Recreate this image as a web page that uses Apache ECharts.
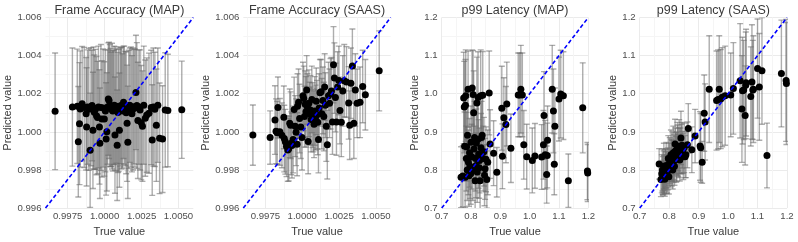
<!DOCTYPE html>
<html><head><meta charset="utf-8">
<script src="https://cdn.jsdelivr.net/npm/echarts@6/dist/echarts.min.js"></script>
<style>html,body{margin:0;padding:0;background:#fff}#c{width:798px;height:242px}</style>
</head><body><div id="c"></div>
<script>
const panelTitles = ['Frame Accuracy (MAP)', 'Frame Accuracy (SAAS)', 'p99 Latency (MAP)', 'p99 Latency (SAAS)'];
const xTitle = 'True value';
const yTitle = 'Predicted value';

const accRange = [0.996, 1.006];
const accTicksX = [0.9975, 1.0000, 1.0025, 1.0050];
const accMinorX = [0.99625, 0.99875, 1.00125, 1.00375];
const accTickStepY = 0.002;
const latRange = [0.7, 1.2];
const latTickStep = 0.1;

const accTrue = [0.99665,0.99782,0.99815,0.99822,0.99830,0.99835,0.99848,0.99862,0.99875,0.99878,
 0.99885,0.99893,0.99902,0.99908,0.99915,0.99921,0.99925,0.99930,0.99938,0.99945,
 0.99952,0.99958,0.99965,0.99968,0.99975,0.99982,0.99990,0.99998,1.00005,1.00010,
 1.00015,1.00020,1.00025,1.00030,1.00035,1.00040,1.00045,1.00050,1.00055,1.00060,
 1.00065,1.00070,1.00075,1.00080,1.00085,1.00090,1.00095,1.00100,1.00105,1.00110,
 1.00115,1.00120,1.00128,1.00133,1.00140,1.00146,1.00152,1.00157,1.00163,1.00170,
 1.00178,1.00185,1.00192,1.00198,1.00205,1.00212,1.00218,1.00225,1.00232,1.00240,
 1.00248,1.00256,1.00265,1.00275,1.00285,1.00300,1.00315,1.00322,1.00330,1.00340,
 1.00350,1.00360,1.00372,1.00392,1.00410,1.00428,1.00522];

const accMapPred = [1.00108,1.00130,1.00134,0.99948,1.00043,1.00120,1.00148,1.00128,1.00095,1.00026,
 1.00130,1.00118,0.99903,1.00132,1.00138,1.00008,1.00125,1.00103,1.00118,1.00085,
 1.00075,1.00130,1.00026,0.99940,1.00128,1.00068,1.00125,1.00068,1.00110,0.99963,
 1.00000,1.00130,1.00172,1.00165,1.00138,1.00128,1.00118,1.00135,1.00110,1.00128,
 1.00140,0.99983,1.00122,1.00135,0.99930,1.00102,1.00112,1.00009,1.00130,1.00138,
 1.00125,1.00110,1.00155,1.00140,1.00122,1.00100,1.00045,0.99945,1.00118,1.00140,
 1.00130,1.00095,1.00120,1.00132,1.00125,1.00207,1.00138,1.00060,1.00130,1.00115,
 1.00048,1.00030,1.00140,1.00072,1.00088,1.00098,1.00128,0.99957,1.00130,1.00118,
 1.00035,1.00140,0.99966,0.99962,1.00115,1.00112,1.00116];

const accMapErr = [0.00306,0.00310,0.00300,0.00290,0.00320,0.00305,0.00300,0.00315,0.00295,0.00310,
 0.00300,0.00320,0.00300,0.00310,0.00290,0.00305,0.00320,0.00300,0.00315,0.00310,
 0.00295,0.00320,0.00300,0.00290,0.00330,0.00305,0.00310,0.00300,0.00320,0.00295,
 0.00310,0.00300,0.00295,0.00305,0.00320,0.00310,0.00300,0.00330,0.00315,0.00300,
 0.00310,0.00305,0.00325,0.00300,0.00290,0.00315,0.00320,0.00300,0.00310,0.00305,
 0.00320,0.00300,0.00295,0.00310,0.00300,0.00320,0.00305,0.00295,0.00310,0.00300,
 0.00315,0.00305,0.00320,0.00300,0.00310,0.00300,0.00330,0.00305,0.00300,0.00315,
 0.00300,0.00290,0.00310,0.00305,0.00300,0.00315,0.00300,0.00290,0.00310,0.00300,
 0.00295,0.00300,0.00290,0.00280,0.00300,0.00295,0.00255];

const accSaasPred = [0.99983,0.99970,1.00062,1.00003,0.99995,1.00128,1.00000,0.99982,1.00076,0.99965,
 0.99948,0.99925,0.99905,0.99912,1.00045,1.00035,0.99940,0.99928,0.99960,1.00117,
 1.00030,0.99998,0.99935,1.00135,1.00155,1.00070,1.00025,0.99970,1.00190,1.00175,
 1.00080,1.00145,1.00105,1.00220,1.00130,0.99950,1.00150,1.00095,1.00115,1.00065,
 1.00170,1.00088,1.00060,1.00040,1.00110,1.00075,1.00160,1.00090,1.00050,0.99960,
 1.00125,1.00205,1.00210,1.00095,1.00165,1.00080,1.00235,1.00140,1.00030,0.99933,
 1.00190,1.00150,1.00200,1.00215,1.00052,1.00352,1.00282,1.00180,1.00052,1.00235,
 1.00270,1.00112,1.00050,1.00215,1.00268,1.00262,1.00152,1.00035,1.00255,1.00345,
 1.00045,1.00220,1.00150,1.00155,1.00238,1.00195,1.00320];

const accSaasErr = [0.00158,0.00140,0.00180,0.00170,0.00165,0.00160,0.00175,0.00170,0.00165,0.00175,
 0.00170,0.00160,0.00165,0.00170,0.00180,0.00175,0.00165,0.00170,0.00175,0.00170,
 0.00160,0.00175,0.00165,0.00170,0.00175,0.00180,0.00165,0.00170,0.00175,0.00170,
 0.00160,0.00175,0.00185,0.00180,0.00175,0.00170,0.00175,0.00165,0.00180,0.00170,
 0.00175,0.00170,0.00165,0.00175,0.00180,0.00170,0.00175,0.00180,0.00170,0.00175,
 0.00180,0.00175,0.00170,0.00185,0.00175,0.00180,0.00175,0.00170,0.00185,0.00180,
 0.00175,0.00180,0.00185,0.00175,0.00170,0.00200,0.00185,0.00180,0.00175,0.00185,
 0.00180,0.00175,0.00180,0.00185,0.00190,0.00185,0.00190,0.00180,0.00185,0.00195,
 0.00185,0.00190,0.00180,0.00185,0.00190,0.00185,0.00210];

const latTrue = [0.766,0.772,0.775,0.777,0.778,0.780,0.781,0.782,0.784,0.785,
 0.787,0.788,0.790,0.791,0.793,0.795,0.797,0.799,0.800,0.802,
 0.804,0.806,0.807,0.809,0.810,0.812,0.814,0.815,0.817,0.818,
 0.820,0.821,0.823,0.824,0.826,0.828,0.829,0.831,0.833,0.834,
 0.836,0.838,0.840,0.842,0.844,0.846,0.848,0.851,0.854,0.857,
 0.862,0.865,0.877,0.888,0.905,0.907,0.912,0.919,0.922,0.936,
 0.961,0.966,0.970,0.975,0.980,0.990,1.009,1.018,1.041,1.047,
 1.049,1.053,1.058,1.060,1.061,1.077,1.081,1.084,1.086,1.100,
 1.106,1.115,1.132,1.181,1.197,1.198];

const latMapPred = [0.781,0.784,0.989,0.965,0.862,0.781,0.970,0.995,0.830,0.861,
 0.800,0.891,1.012,0.820,0.785,0.845,0.810,0.790,0.873,0.835,
 1.015,0.800,0.998,0.950,0.855,0.885,0.772,0.830,0.812,0.870,
 0.976,0.795,0.880,0.990,0.842,0.806,0.825,0.772,0.995,0.858,
 0.885,0.891,0.996,0.830,0.848,0.786,0.803,0.828,0.775,0.820,
 1.002,0.868,0.844,0.794,0.962,0.836,0.937,0.919,0.973,0.857,
 0.997,0.997,1.012,0.997,0.866,0.835,0.825,0.837,0.834,0.866,
 0.943,0.840,0.788,0.838,0.878,1.012,0.955,0.815,0.915,0.986,
 0.999,0.995,0.772,0.963,0.797,0.792];

const latMapErr = [0.080,0.080,0.120,0.120,0.090,0.080,0.120,0.120,0.085,0.090,
 0.080,0.100,0.100,0.085,0.080,0.090,0.085,0.080,0.095,0.085,
 0.100,0.080,0.115,0.110,0.090,0.095,0.075,0.085,0.085,0.090,
 0.120,0.080,0.095,0.120,0.090,0.080,0.085,0.075,0.120,0.090,
 0.095,0.100,0.115,0.085,0.090,0.080,0.080,0.085,0.075,0.085,
 0.110,0.090,0.085,0.065,0.110,0.085,0.105,0.100,0.110,0.090,
 0.110,0.110,0.115,0.110,0.090,0.085,0.085,0.085,0.085,0.090,
 0.115,0.090,0.075,0.085,0.090,0.115,0.110,0.080,0.100,0.110,
 0.115,0.115,0.070,0.118,0.075,0.075];

const latSaasPred = [0.816,0.775,0.790,0.800,0.785,0.780,0.795,0.810,0.788,0.776,
 0.800,0.805,0.812,0.793,0.790,0.803,0.830,0.782,0.815,0.825,
 0.805,0.840,0.826,0.818,0.835,0.800,0.845,0.822,0.832,0.810,
 0.868,0.850,0.843,0.828,0.835,0.855,0.858,0.838,0.845,0.862,
 0.826,0.850,0.884,0.855,0.865,0.846,0.835,0.858,0.835,0.840,
 0.866,0.909,0.853,0.889,0.863,0.858,0.820,0.949,0.926,1.012,
 0.982,0.985,1.012,0.986,0.991,0.995,0.997,1.014,1.034,0.960,
 1.008,1.010,0.943,1.022,1.029,0.993,1.031,1.010,1.012,1.066,
 1.018,1.060,0.838,1.053,1.035,1.027];

const latSaasErr = [0.040,0.045,0.050,0.055,0.050,0.045,0.055,0.060,0.050,0.045,
 0.055,0.050,0.060,0.055,0.050,0.055,0.060,0.045,0.055,0.060,
 0.050,0.065,0.055,0.060,0.065,0.050,0.070,0.055,0.060,0.050,
 0.065,0.060,0.055,0.060,0.065,0.070,0.060,0.055,0.065,0.070,
 0.055,0.060,0.070,0.065,0.060,0.055,0.060,0.065,0.055,0.060,
 0.060,0.065,0.060,0.070,0.090,0.090,0.055,0.100,0.100,0.140,
 0.130,0.130,0.140,0.130,0.130,0.130,0.110,0.120,0.150,0.140,
 0.140,0.130,0.130,0.140,0.140,0.130,0.150,0.130,0.140,0.130,
 0.140,0.140,0.085,0.140,0.160,0.160];

// ---------------- layout ----------------
const FONT = 'Liberation Sans, Arial, sans-serif';
const grids = [
  {left: 45.5, top: 17.5, width: 147.8, height: 193},
  {left: 243.3, top: 17.5, width: 147.4, height: 193},
  {left: 441.7, top: 17.5, width: 146.6, height: 193},
  {left: 639.7, top: 17.5, width: 147.3, height: 193}
];
const yNameGaps = [29.3, 28.3, 18.3, 18.3];
const MAJOR = '#ebebeb', MINOR = '#f5f5f5';

function errRenderer(params, api) {
  const x = api.value(0), lo = api.value(1), hi = api.value(2);
  const pLo = api.coord([x, lo]), pHi = api.coord([x, hi]);
  const cap = 3;
  const style = {stroke: 'rgba(105,105,105,0.55)', lineWidth: 1.4, fill: null};
  return {type: 'group', children: [
    {type: 'line', shape: {x1: pLo[0], y1: pLo[1], x2: pHi[0], y2: pHi[1]}, style: style},
    {type: 'line', shape: {x1: pLo[0] - cap, y1: pLo[1], x2: pLo[0] + cap, y2: pLo[1]}, style: style},
    {type: 'line', shape: {x1: pHi[0] - cap, y1: pHi[1], x2: pHi[0] + cap, y2: pHi[1]}, style: style}
  ]};
}

const panels = [
  {x: accTrue, y: accMapPred, e: accMapErr, range: accRange, acc: true},
  {x: accTrue, y: accSaasPred, e: accSaasErr, range: accRange, acc: true},
  {x: latTrue, y: latMapPred, e: latMapErr, range: latRange, acc: false},
  {x: latTrue, y: latSaasPred, e: latSaasErr, range: latRange, acc: false}
];

const option = {
  animation: false,
  backgroundColor: '#ffffff',
  textStyle: {fontFamily: FONT},
  title: [], grid: [], xAxis: [], yAxis: [], series: []
};

panels.forEach((p, i) => {
  const g = grids[i];
  option.grid.push({left: g.left, top: g.top, width: g.width, height: g.height, containLabel: false});
  option.title.push({
    text: panelTitles[i], left: g.left + g.width / 2, top: 4.5, textAlign: 'center', padding: 0,
    textStyle: {fontFamily: FONT, fontSize: 12.5, fontWeight: 'normal', color: '#3a3a3a'}
  });
  const xAx = {
    type: 'value', gridIndex: i, min: p.range[0], max: p.range[1],
    name: xTitle, nameLocation: 'middle', nameGap: 14.5,
    nameTextStyle: {fontFamily: FONT, fontSize: 11, color: '#3a3a3a'},
    axisLine: {show: false}, axisTick: {show: false},
    splitLine: {show: true, lineStyle: {color: MAJOR, width: 1}},
    axisLabel: {fontFamily: FONT, fontSize: 9.6, color: '#4d4d4d', margin: 3}
  };
  if (p.acc) {
    xAx.axisTick.customValues = accTicksX;
    xAx.axisLabel.customValues = accTicksX;
    xAx.axisLabel.formatter = v => v.toFixed(4);
  } else {
    xAx.interval = latTickStep;
    xAx.axisLabel.formatter = v => v.toFixed(1);
    xAx.minorTick = {show: false, splitNumber: 2};
    xAx.minorSplitLine = {show: true, lineStyle: {color: MINOR, width: 1}};
  }
  option.xAxis.push(xAx);
  option.yAxis.push({
    type: 'value', gridIndex: i, min: p.range[0], max: p.range[1],
    interval: p.acc ? accTickStepY : latTickStep,
    name: yTitle, nameLocation: 'middle', nameGap: yNameGaps[i],
    nameTextStyle: {fontFamily: FONT, fontSize: 11, color: '#3a3a3a'},
    axisLine: {show: false}, axisTick: {show: false},
    minorTick: {show: false, splitNumber: 2},
    splitLine: {show: true, lineStyle: {color: MAJOR, width: 1}},
    minorSplitLine: {show: true, lineStyle: {color: MINOR, width: 1}},
    axisLabel: {fontFamily: FONT, fontSize: 9.6, color: '#4d4d4d', margin: 4,
      formatter: v => p.acc ? v.toFixed(3) : v.toFixed(1)}
  });
});
// minor vertical grid for accuracy panels
[0, 1].forEach(i => {
  option.xAxis.push({
    type: 'value', gridIndex: i, min: accRange[0], max: accRange[1], position: 'top',
    axisLine: {show: false}, axisLabel: {show: false},
    axisTick: {show: false, customValues: accMinorX},
    splitLine: {show: true, lineStyle: {color: MINOR, width: 1}},
    z: 0
  });
});

panels.forEach((p, i) => {
  const errData = p.x.map((xv, k) => [xv, p.y[k] - p.e[k], p.y[k] + p.e[k]]);
  const ptData = p.x.map((xv, k) => [xv, p.y[k]]);
  option.series.push({
    type: 'custom', xAxisIndex: i, yAxisIndex: i, renderItem: errRenderer,
    data: errData, clip: true, silent: true, z: 2,
    encode: {x: 0, y: [1, 2]}
  });
  option.series.push({
    type: 'scatter', xAxisIndex: i, yAxisIndex: i, data: ptData,
    symbol: 'circle', symbolSize: 7, itemStyle: {color: '#000000', opacity: 1},
    silent: true, z: 3
  });
  option.series.push({
    type: 'line', xAxisIndex: i, yAxisIndex: i,
    data: [[p.range[0], p.range[0]], [p.range[1], p.range[1]]],
    symbol: 'none', silent: true, z: 4,
    lineStyle: {color: '#0000ff', width: 1.6, type: [4, 2.5]}
  });
});

const chart = echarts.init(document.getElementById('c'), null, {renderer: 'canvas'});
chart.setOption(option);
</script>
</body></html>
